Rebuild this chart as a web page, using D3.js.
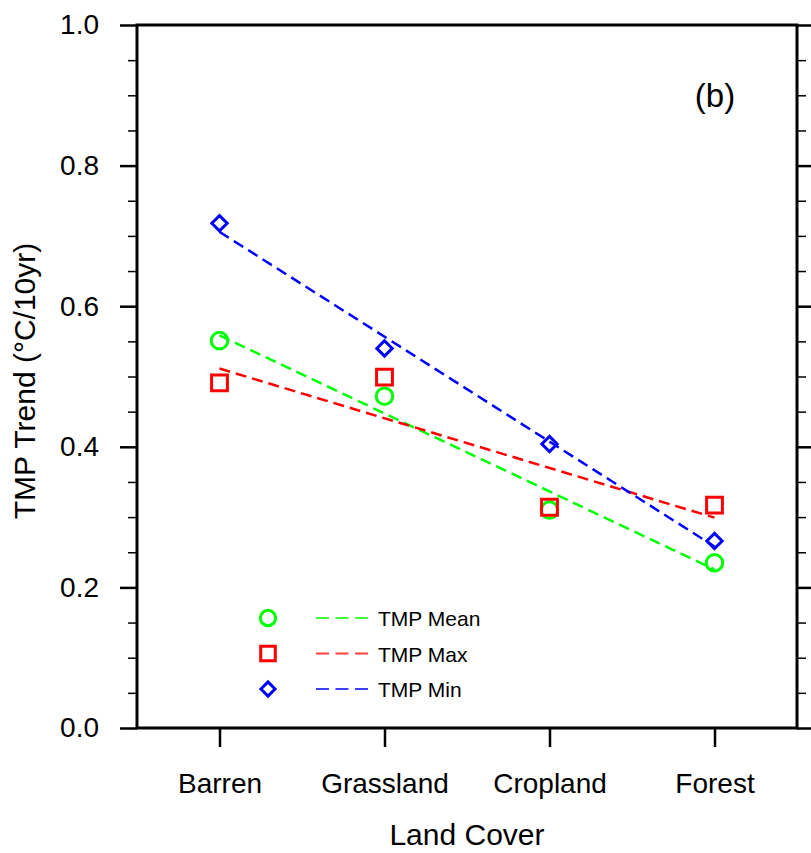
<!DOCTYPE html>
<html>
  <head>
    <title>TMP Trend</title>
    <script src="https://cdn.jsdelivr.net/npm/d3@7"></script>
    <style>
      body { margin: 0; background: #fff; }
      text { font-family: "Liberation Sans", Arial, sans-serif; }
    </style>
  </head>
  <body>
    <svg width="811" height="853" id="mainsvg"></svg>
    <script>
        // categories and values
        const landCover = ['Barren', 'Grassland', 'Cropland', 'Forest'];
        const tmpMean = [0.551, 0.472, 0.310, 0.235];
        const tmpMax  = [0.491, 0.499, 0.314, 0.317];
        const tmpMin  = [0.718, 0.540, 0.404, 0.266];
        const yTicks = [0.0, 0.2, 0.4, 0.6, 0.8, 1.0];
        const yMinorTicks = [0.05, 0.1, 0.15, 0.25, 0.3, 0.35, 0.45, 0.5, 0.55, 0.65, 0.7, 0.75, 0.85, 0.9, 0.95];

        const series = [
          {name: 'TMP Mean', values: tmpMean, color: '#00ff00', marker: 'circle'},
          {name: 'TMP Max',  values: tmpMax,  color: '#ff0000', marker: 'square'},
          {name: 'TMP Min',  values: tmpMin,  color: '#0000ff', marker: 'diamond'}
        ];

        const svg = d3.select('#mainsvg');
        const margin = {top: 25, right: 14, bottom: 125, left: 137};
        const innerWidth = 660;
        const innerHeight = 703;

        const xScale = d3.scaleLinear().domain([0.5, 4.5]).range([0, innerWidth]);
        const yScale = d3.scaleLinear().domain([0, 1]).range([innerHeight, 0]);

        const g = svg.append('g').attr('id', 'maingroup')
          .attr('transform', `translate(${margin.left}, ${margin.top})`);

        // axes
        const styleAxis = (sel, w) => {
          sel.select('.domain').remove();
          sel.selectAll('.tick line').attr('stroke', '#000').attr('stroke-width', w || 2.5);
          sel.selectAll('.tick text').attr('fill', '#000')
            .attr('font-family', '"Liberation Sans", Arial, sans-serif');
        };
        const noLabels = sel => sel.selectAll('.tick text').remove();

        const yAxisG = g.append('g').call(d3.axisLeft(yScale).tickValues(yTicks).tickSize(17).tickPadding(21)
          .tickFormat(d3.format('.1f'))).call(styleAxis);
        yAxisG.selectAll('.tick text').attr('font-size', '28px');
        g.append('g').call(d3.axisLeft(yScale).tickValues(yMinorTicks).tickSize(9))
          .call(styleAxis, 1.5).call(noLabels);

        g.append('g').attr('transform', `translate(${innerWidth}, 0)`)
          .call(d3.axisRight(yScale).tickValues(yTicks).tickSize(17)).call(styleAxis).call(noLabels);
        g.append('g').attr('transform', `translate(${innerWidth}, 0)`)
          .call(d3.axisRight(yScale).tickValues(yMinorTicks).tickSize(9))
          .call(styleAxis, 1.5).call(noLabels);

        const xAxisG = g.append('g').attr('transform', `translate(0, ${innerHeight})`)
          .call(d3.axisBottom(xScale).tickValues([1, 2, 3, 4]).tickSize(19).tickPadding(26)
            .tickFormat((d, i) => landCover[i])).call(styleAxis);
        xAxisG.selectAll('.tick text').attr('font-size', '28px');

        // frame
        g.append('rect').attr('width', innerWidth).attr('height', innerHeight)
          .attr('fill', 'none').attr('stroke', '#000').attr('stroke-width', 3);

        // trend lines (least squares fit)
        const xs = [1, 2, 3, 4];
        const fit = vals => {
          const mx = d3.mean(xs), my = d3.mean(vals);
          const slope = d3.sum(xs, (x, i) => (x - mx) * (vals[i] - my)) / d3.sum(xs, x => (x - mx) ** 2);
          return x => my + slope * (x - mx);
        };

        const symbolType = {circle: d3.symbolCircle, square: d3.symbolSquare, diamond: d3.symbolDiamond2};
        const symbolSize = {circle: 215, square: 250, diamond: 150};

        series.forEach(s => {
          const f = fit(s.values);
          g.append('line')
            .attr('x1', xScale(1)).attr('y1', yScale(f(1)))
            .attr('x2', xScale(4)).attr('y2', yScale(f(4)))
            .attr('stroke', s.color).attr('stroke-width', 2.5)
            .attr('stroke-dasharray', '11,6');
        });

        series.forEach(s => {
          g.selectAll(null).data(s.values).join('path')
            .attr('transform', (d, i) => `translate(${xScale(i + 1)}, ${yScale(d)})`)
            .attr('d', d3.symbol().type(symbolType[s.marker]).size(symbolSize[s.marker]))
            .attr('fill', 'none').attr('stroke', s.color).attr('stroke-width', 3);
        });

        // legend
        const legend = g.append('g').attr('transform', `translate(${268 - margin.left}, ${618 - margin.top})`);
        series.forEach((s, i) => {
          const row = legend.append('g').attr('transform', `translate(0, ${i * 35.5})`);
          row.append('path')
            .attr('d', d3.symbol().type(symbolType[s.marker]).size(symbolSize[s.marker] * 0.85))
            .attr('fill', 'none').attr('stroke', s.color).attr('stroke-width', 3);
          row.append('line').attr('x1', 48).attr('x2', 106).attr('y1', 0).attr('y2', 0)
            .attr('stroke', s.color).attr('stroke-width', 2.2).attr('stroke-dasharray', '13,6.5')
            .attr('opacity', 0.75);
          row.append('text').attr('x', 110).attr('y', 8).attr('font-size', '21px').text(s.name);
        });

        // titles
        g.append('text').text('(b)').attr('font-size', '33px')
          .attr('x', 578).attr('y', 82).attr('text-anchor', 'middle');

        g.append('text').text('Land Cover').attr('font-size', '30px')
          .attr('x', innerWidth / 2).attr('y', innerHeight + 117).attr('text-anchor', 'middle');

        g.append('text').text('TMP Trend (°C/10yr)').attr('font-size', '30px')
          .attr('transform', `translate(${-102}, ${356}) rotate(-90)`)
          .attr('text-anchor', 'middle');
    </script>
  </body>
</html>
